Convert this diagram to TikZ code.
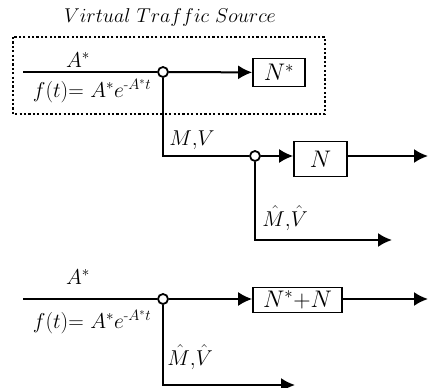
\RequirePackage{fix-cm}
\documentclass[tikz,border=0pt]{standalone}
\usepackage{amsmath}
\usetikzlibrary{arrows.meta}
\begin{document}
\begin{tikzpicture}[x=1pt,y=-1pt,
  line width=2pt,
  every node/.style={font=\fontsize{21.5}{26}\selectfont},
  tip/.style={-{Latex[length=14pt,width=14pt]}},
  junc/.style={circle,draw,fill=white,inner sep=0pt,minimum size=10pt,line width=1.8pt},
  blk/.style={draw,rectangle,line width=1.7pt,inner sep=0pt,font=\fontsize{24}{28}\selectfont},
  lbl/.style={inner sep=0pt}]
\useasboundingbox (0,0) rectangle (429,388);
% virtual source frame
\draw[line width=1.2pt, dash pattern=on 2.2pt off 2.2pt] (13,37) rectangle (325,114);
\node[lbl, font=\fontsize{20}{24}\selectfont] (title) at (170,18) {$Virtual\ Traffic\ Source$};
% top branch
\coordinate (in1) at (23,72);
\node[junc] (j1) at (163,72) {};
\node[blk, minimum width=52pt, minimum height=28pt] (ns) at (279,72.5) {$N^*$};
\draw (in1) -- (j1);
\draw[tip] (j1) -- (ns);
\node[lbl] (a1) at (78,60) {$A^*$};
\node[lbl] (f1) at (92,91) {$f(t){=}\ A^*e^{\text{-}A^*t}$};
% middle branch
\coordinate (c1) at (163,156);
\node[junc] (j2) at (255,156) {};
\draw (j1) -- (c1) -- (j2);
\node[lbl] (mv) at (192,140) {$M{,}V$};
\node[blk, minimum width=53pt, minimum height=35pt] (n) at (320.5,159) {$N$};
\draw[tip] (j2) -- (n.west |- j2);
\coordinate (o1) at (428,156);
\draw[tip] (n.east |- j2) -- (o1);
\coordinate (c2) at (255,240);
\coordinate (o2) at (392,240);
\draw[tip] (j2) -- (c2) -- (o2);
\node[lbl] (mv2) at (285,218) {$\hat{M}{,}\hat{V}$};
% bottom
\coordinate (in2) at (23,299);
\node[junc] (j3) at (163,299) {};
\node[blk, minimum width=89pt, minimum height=25pt] (nn) at (297.5,300) {$N^*{+}N$};
\draw (in2) -- (j3);
\draw[tip] (j3) -- (nn.west |- j3);
\coordinate (o3) at (428,299);
\draw[tip] (nn.east |- j3) -- (o3);
\coordinate (c3) at (163,385);
\coordinate (o4) at (295,385);
\draw[tip] (j3) -- (c3) -- (o4);
\node[lbl] (a2) at (78,277) {$A^*$};
\node[lbl] (f2) at (92,322) {$f(t){=}\ A^*e^{\text{-}A^*t}$};
\node[lbl] (mv3) at (190,357) {$\hat{M}{,}\hat{V}$};
\end{tikzpicture}
\end{document}
